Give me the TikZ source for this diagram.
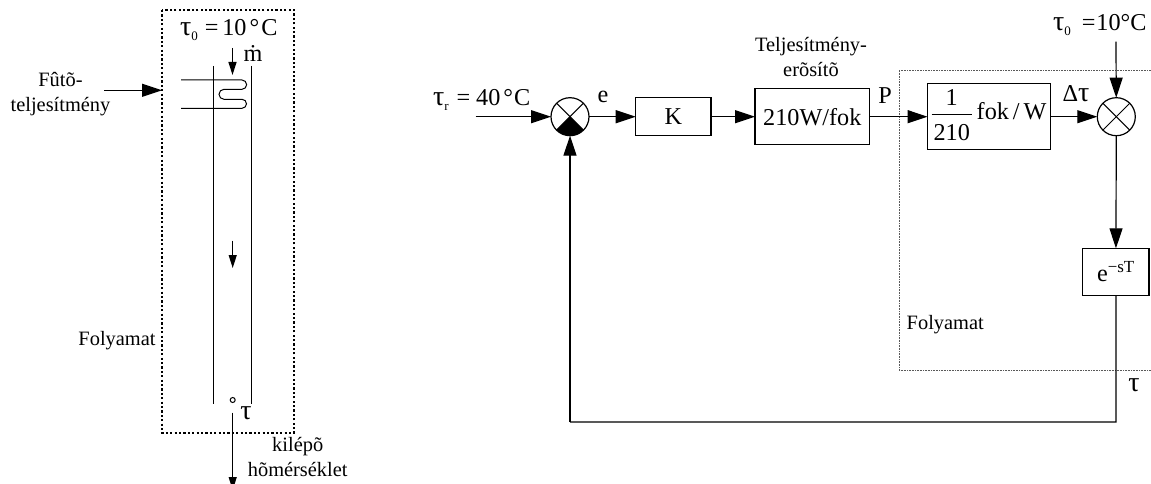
\documentclass[tikz,border=0pt]{standalone}
\usepackage{fontspec}
\setmainfont{Liberation Serif}
\usetikzlibrary{arrows.meta, positioning}
\newcommand{\lowidx}[1]{\raisebox{-5pt}{\fontsize{13}{13}\selectfont #1}}
\newcommand{\bigtau}{{\fontsize{28}{28}\selectfont τ}}

\begin{document}
\begin{tikzpicture}[
    x=1pt, y=-1pt,
    node distance=27pt and 27pt,
    lab/.style={
        inner sep=0pt,
        outer sep=0pt,
        anchor=base,
        align=center,
        font=\fontsize{20.4}{25.5}\selectfont
    },
    biglab/.style={
        lab,
        font=\fontsize{24.2}{28}\selectfont
    },
    block/.style={
        draw=black,
        line width=1.2pt,
        inner sep=0pt,
        outer sep=0pt,
        align=center,
        font=\fontsize{24.2}{28}\selectfont
    },
    summer/.style={
        draw=black,
        circle,
        line width=1.2pt,
        minimum size=38pt,
        inner sep=0pt,
        outer sep=0pt
    },
    arrow/.style={
        -{Triangle[length=20pt,width=13pt]},
        line width=1.2pt,
        draw=black
    },
    smallarrow/.style={
        -{Triangle[length=13pt,width=8pt]},
        line width=1.2pt,
        draw=black
    },
    wire/.style={
        line width=1.2pt,
        draw=black
    },
    limit/.style={
        line width=1.2pt,
        draw=black,
        dash pattern=on 2.2pt off 2.2pt
    },
    plant/.style={
        line width=0.7pt,
        draw=black!65,
        dash pattern=on 0.8pt off 0.8pt
    }
]
\useasboundingbox (0,0) rectangle (1151,484);

% Heater side
\coordinate (heatin) at (104,90.3);
\coordinate (boxnw) at (162,10);
\coordinate (boxse) at (294,433);
\coordinate (boxw) at (162,90.3);
\coordinate (pipeAt) at (213.7,66);
\coordinate (pipeAb) at (213.7,404);
\coordinate (pipeBt) at (251.3,66);
\coordinate (pipeBb) at (251.3,404);
\coordinate (flowt) at (232.5,48);
\coordinate (flowb) at (232.5,75);
\coordinate (midt) at (232.7,240.7);
\coordinate (midb) at (232.7,268);
\coordinate (outb) at (232.7,490);
\coordinate (outt) at (232.7,412.7);
\node (probe) [circle, draw=black, line width=1pt, minimum size=5pt, inner sep=0pt] at (232.7,400) {};

\draw [limit] (boxnw) rectangle (boxse);
\draw [arrow] (heatin) -- (boxw);
\draw [wire] (pipeAt) -- (pipeAb);
\draw [wire] (pipeBt) -- (pipeBb);
\draw [smallarrow] (flowt) -- (flowb);
\draw [smallarrow] (midt) -- (midb);
\draw [smallarrow] (outt) -- (outb);
\draw [line width=1pt] (181,80) -- (242,80) arc[start angle=-90,end angle=90,radius=4.65] -- (224,89.3)
    arc[start angle=-90,end angle=-270,radius=5] -- (242,99.3) arc[start angle=-90,end angle=90,radius=4.5] -- (181,108.3);

\node (tauzero) [biglab, anchor=base west] at (180,36) {\bigtau\lowidx{0}\hspace{7pt}=\hspace{4pt}10\hspace{3pt}°\hspace{2pt}C};
\node (mflow) [biglab] at (253,62) {ṁ};
\node (heatlab) [lab] at (60.5,112) {Fûtõ-\\teljesítmény};
\node (procleft) [lab] at (117,345.7) {Folyamat};
\node (tauout) [biglab] at (246,419) {\bigtau};
\node (leave) [lab] at (297.7,476.7) {kilépõ\\hõmérséklet};

% Control loop
\node (sumA) [summer] at (570,116.7) {};
\node (gain) [block, right=46.7pt of sumA, minimum width=75.3pt, minimum height=38pt] {K};
\node (amp) [block, right=44pt of gain, minimum width=114.6pt, minimum height=56.3pt] {210W/fok};
\node (frac) [block, right=58pt of amp, minimum width=122.7pt, minimum height=65.7pt] {};
\node (sumB) [summer, right=47pt of frac] {};
\node (delay) [block, minimum width=66.3pt, minimum height=47.4pt] at (1115.9,272) {e\textsuperscript{−sT}};

\coordinate (refin) at (475.7,116.7);
\coordinate (distin) at (1116,41.7);
\coordinate (loopr) at (1116,422);
\coordinate (loopl) at (570,422);
\coordinate (plantne) at (1151,70);
\coordinate (plantnw) at (899.3,70);
\coordinate (plantsw) at (899.3,370.7);
\coordinate (plantse) at (1151,370.7);

\draw [plant] (plantne) -- (plantnw) -- (plantsw) -- (plantse);

\fill (sumA.center) -- (sumA.-45) arc[start angle=45,end angle=135,radius=19] -- cycle;
\draw [line width=1pt] (sumA.45) -- (sumA.225);
\draw [line width=1pt] (sumA.135) -- (sumA.-45);
\draw [line width=1pt] (sumB.45) -- (sumB.225);
\draw [line width=1pt] (sumB.135) -- (sumB.-45);

\draw [arrow] (refin) -- (sumA);
\draw [arrow] (sumA) -- (gain);
\draw [arrow] (gain) -- (amp);
\draw [arrow] (amp) -- (frac);
\draw [arrow] (frac) -- (sumB);
\draw [arrow] (distin) -- (sumB);
\draw [arrow] (sumB) -- (delay);
\draw [wire] (delay) -- (loopr) -- (loopl);
\draw [arrow] (loopl) -- (sumA);

\node (fracone) [biglab] at (951.7,106) {1};
\node (fractwo) [biglab] at (951.7,141) {210};
\coordinate (barl) at (931.7,115);
\coordinate (barr) at (971.7,115);
\draw [line width=1pt] (barl) -- (barr);
\node (fracunit) [biglab, anchor=base west] at (976.7,120) {fok\hspace{4pt}/\hspace{4pt}W};

\node (taur) [biglab, anchor=base west] at (433,105.7) {\bigtau\lowidx{r}\hspace{8pt}=\hspace{6pt}40\hspace{3pt}°\hspace{1pt}C};
\node (err) [biglab] at (603,102.7) {e};
\node (amplab) [lab] at (811,77) {Teljesítmény-\\erõsítõ};
\node (power) [biglab] at (885,103.3) {P};
\node (deltatau) [biglab] at (1076,101.7) {Δ\bigtau};
\node (tauzerob) [biglab, anchor=base west] at (1053,30.7) {\bigtau\lowidx{0}\hspace{11pt}=\hspace{1pt}10°C};
\node (procright) [lab, anchor=base west] at (906.7,329) {Folyamat};
\node (taufb) [biglab] at (1134,391.7) {\bigtau};

\end{tikzpicture}
\end{document}
